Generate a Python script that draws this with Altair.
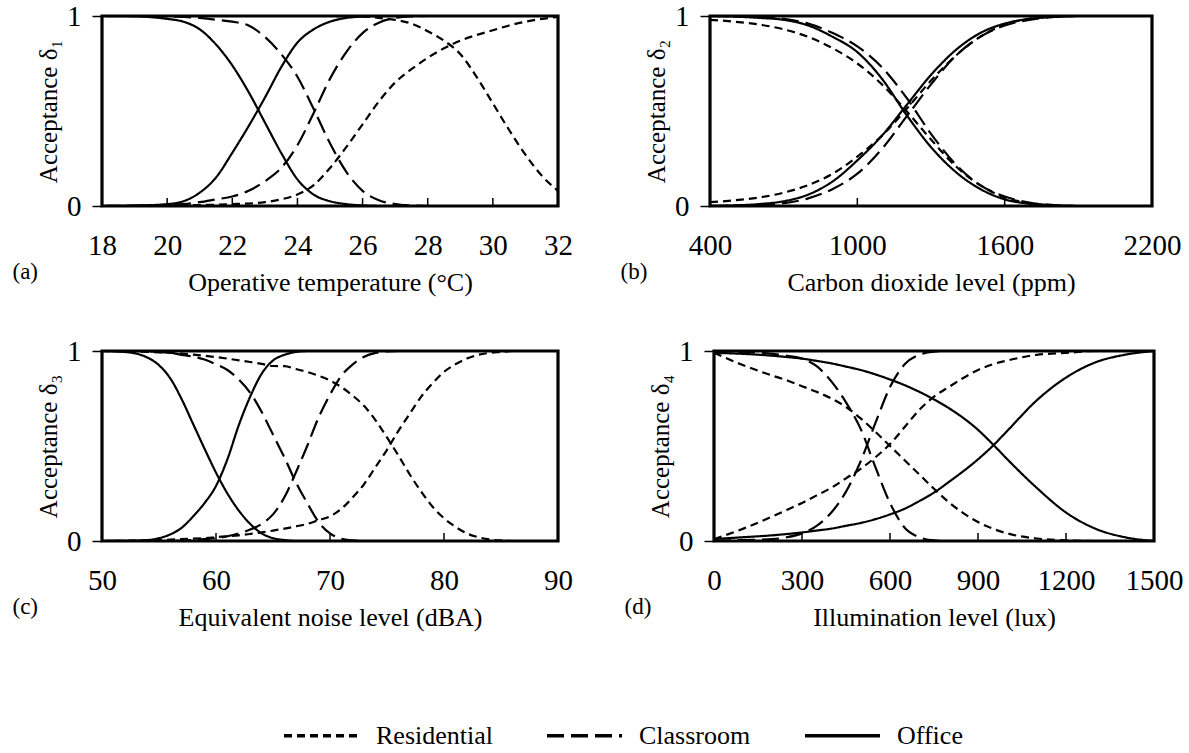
import altair as alt
import pandas as pd

FONT = "Liberation Serif"
WL, WR, H = 456, 442, 190

TYPES = ["Residential", "Classroom", "Office"]
DASHES = [[8, 5], [17, 7], [1, 0]]

# ---------- panel (a): operative temperature ----------
A_X = [18, 19, 20, 20.5, 21, 21.5, 22, 22.5, 23, 23.5, 24, 24.5, 25, 25.5, 26,
       26.5, 27, 27.5, 28, 28.5, 29, 29.5, 30, 30.5, 31, 31.5, 32]
A_RES_UP = [0, 0, 0.002, 0.003, 0.005, 0.007, 0.01, 0.013, 0.02, 0.035, 0.06, 0.11, 0.2, 0.31,
            0.43, 0.55, 0.65, 0.72, 0.78, 0.83, 0.87, 0.9, 0.925, 0.95, 0.97, 0.985, 0.995]
A_RES_DOWN = [1, 1, 1, 1, 1, 1, 1, 1, 1, 1, 1, 1, 1, 0.999, 0.998,
              0.99, 0.98, 0.96, 0.92, 0.87, 0.80, 0.68, 0.54, 0.40, 0.27, 0.16, 0.08]
A_CLS_UP = [0, 0.002, 0.005, 0.01, 0.02, 0.035, 0.05, 0.08, 0.13, 0.2, 0.32, 0.49, 0.67, 0.81,
            0.91, 0.965, 0.99, 0.998, 1, 1, 1, 1, 1, 1, 1, 1, 1]
A_CLS_DOWN = [1, 1, 0.998, 0.995, 0.99, 0.98, 0.97, 0.95, 0.89, 0.80, 0.68, 0.51, 0.33, 0.18,
              0.08, 0.03, 0.01, 0.003, 0, 0, 0, 0, 0, 0, 0, 0, 0]
A_OFF_UP = [0, 0.002, 0.01, 0.025, 0.07, 0.15, 0.28, 0.42, 0.57, 0.73, 0.86, 0.93, 0.97, 0.99,
            0.997, 1, 1, 1, 1, 1, 1, 1, 1, 1, 1, 1, 1]
A_OFF_DOWN = [1, 0.998, 0.985, 0.97, 0.93, 0.85, 0.74, 0.60, 0.44, 0.28, 0.14, 0.06, 0.025, 0.01,
              0.003, 0, 0, 0, 0, 0, 0, 0, 0, 0, 0, 0, 0]

# ---------- panel (b): carbon dioxide ----------
B_X = [400, 500, 600, 700, 800, 900, 1000, 1100, 1200, 1300, 1400, 1500, 1600, 1700,
       1800, 1900, 2000, 2100, 2200]
B_RES_DOWN = [0.98, 0.97, 0.955, 0.93, 0.89, 0.83, 0.75, 0.64, 0.5, 0.35, 0.21, 0.11, 0.045,
              0.015, 0.004, 0, 0, 0, 0]
B_RES_UP = [0.02, 0.03, 0.045, 0.07, 0.11, 0.17, 0.26, 0.37, 0.51, 0.66, 0.79, 0.89, 0.955,
            0.985, 0.997, 1, 1, 1, 1]
B_CLS_DOWN = [1.0, 0.998, 0.995, 0.985, 0.96, 0.91, 0.84, 0.73, 0.57, 0.38, 0.22, 0.11, 0.05,
              0.018, 0.005, 0, 0, 0, 0]
B_CLS_UP = [0, 0.002, 0.005, 0.015, 0.04, 0.09, 0.17, 0.30, 0.47, 0.64, 0.79, 0.89, 0.95,
            0.98, 0.995, 1, 1, 1, 1]
B_OFF_DOWN = [1.0, 0.997, 0.99, 0.98, 0.95, 0.89, 0.81, 0.67, 0.48, 0.31, 0.18, 0.09, 0.035,
              0.012, 0.003, 0, 0, 0, 0]
B_OFF_UP = [0, 0.003, 0.01, 0.025, 0.06, 0.13, 0.24, 0.37, 0.53, 0.69, 0.82, 0.91, 0.96,
            0.985, 0.995, 1, 1, 1, 1]

# ---------- panel (c): noise ----------
C_X = [50, 52, 54, 55, 56, 57, 58, 59, 60, 61, 62, 63, 64, 65, 66, 67, 68, 69, 70, 71, 72,
       73, 74, 75, 76, 77, 78, 79, 80, 81, 82, 83, 84, 85, 86, 88, 90]
C_OFF_DOWN = [1, 0.995, 0.965, 0.925, 0.855, 0.745, 0.615, 0.485, 0.36, 0.25, 0.16, 0.09, 0.04,
              0.015, 0.005, 0, 0, 0, 0, 0, 0, 0, 0, 0, 0, 0, 0, 0, 0, 0, 0, 0, 0, 0, 0, 0, 0]
C_OFF_UP = [0, 0.001, 0.005, 0.015, 0.035, 0.07, 0.13, 0.2, 0.29, 0.43, 0.61, 0.76, 0.88,
            0.95, 0.98, 0.995, 1, 1, 1, 1, 1, 1, 1, 1, 1, 1, 1, 1, 1, 1, 1, 1, 1, 1, 1, 1, 1]
C_CLS_DOWN = [1, 1, 0.998, 0.995, 0.99, 0.98, 0.97, 0.955, 0.93, 0.9, 0.85, 0.78, 0.68, 0.56,
              0.44, 0.31, 0.2, 0.1, 0.04, 0.012, 0.003, 0, 0, 0, 0, 0, 0, 0, 0, 0, 0, 0, 0, 0,
              0, 0, 0]
C_CLS_UP = [0, 0, 0, 0, 0, 0.002, 0.005, 0.01, 0.015, 0.025, 0.04, 0.06, 0.09, 0.14, 0.23,
            0.36, 0.5, 0.65, 0.77, 0.87, 0.93, 0.97, 0.99, 0.998, 1, 1, 1, 1, 1, 1, 1, 1, 1, 1,
            1, 1, 1]
C_RES_DOWN = [1, 0.998, 0.995, 0.993, 0.99, 0.986, 0.981, 0.975, 0.968, 0.96, 0.951, 0.942,
              0.932, 0.921, 0.92, 0.905, 0.89, 0.87, 0.845, 0.81, 0.765, 0.71, 0.635, 0.545,
              0.45, 0.35, 0.26, 0.18, 0.12, 0.075, 0.04, 0.02, 0.008, 0.003, 0, 0, 0]
C_RES_UP = [0, 0.001, 0.003, 0.005, 0.007, 0.01, 0.012, 0.015, 0.02, 0.025, 0.03, 0.037,
            0.045, 0.055, 0.065, 0.077, 0.09, 0.11, 0.13, 0.17, 0.23, 0.3, 0.39, 0.48, 0.58,
            0.67, 0.76, 0.83, 0.89, 0.93, 0.96, 0.98, 0.99, 0.995, 1, 1, 1]

# ---------- panel (d): illumination ----------
D_X = [0, 100, 200, 250, 300, 350, 400, 450, 500, 550, 600, 650, 700, 750, 800, 900, 950,
       1000, 1100, 1200, 1300, 1400, 1500]
D_OFF_DOWN = [0.99, 0.985, 0.975, 0.968, 0.96, 0.948, 0.935, 0.918, 0.9, 0.877, 0.85, 0.82,
              0.785, 0.745, 0.70, 0.585, 0.51, 0.43, 0.28, 0.15, 0.065, 0.02, 0.0]
D_OFF_UP = [0.01, 0.02, 0.03, 0.037, 0.045, 0.055, 0.065, 0.08, 0.095, 0.115, 0.14, 0.17,
            0.21, 0.255, 0.31, 0.43, 0.5, 0.58, 0.74, 0.86, 0.94, 0.98, 1.0]
D_CLS_DOWN = [1.0, 0.995, 0.985, 0.975, 0.96, 0.92, 0.84, 0.73, 0.59, 0.39, 0.2, 0.07, 0.02,
              0.003, 0, 0, 0, 0, 0, 0, 0, 0, 0]
D_CLS_UP = [0, 0.005, 0.01, 0.02, 0.04, 0.08, 0.15, 0.26, 0.42, 0.62, 0.81, 0.93, 0.98, 0.997,
            1, 1, 1, 1, 1, 1, 1, 1, 1]
D_RES_DOWN = [0.99, 0.925, 0.87, 0.845, 0.815, 0.785, 0.75, 0.705, 0.645, 0.575, 0.5, 0.425,
              0.35, 0.275, 0.205, 0.1, 0.065, 0.04, 0.013, 0.004, 0, 0, 0]
D_RES_UP = [0.01, 0.065, 0.13, 0.165, 0.2, 0.24, 0.28, 0.33, 0.38, 0.44, 0.51, 0.6, 0.69,
            0.76, 0.81, 0.9, 0.93, 0.95, 0.98, 0.99, 1.0, 1.0, 1.0]

# tick values
A_TICKS = [18, 20, 22, 24, 26, 28, 30, 32]
B_TICKS = [400, 1000, 1600, 2200]
C_TICKS = [50, 60, 70, 80, 90]
D_TICKS = [0, 300, 600, 900, 1200, 1500]


def panel(xs, curves, domain, ticks, xtitle, ytitle, tag, width):
    rows = []
    for name, typ, ys in curves:
        for x, y in zip(xs, ys):
            rows.append({"x": x, "y": y, "type": typ, "curve": name})
    df = pd.DataFrame(rows)
    xscale = alt.Scale(domain=domain, nice=False, zero=False)
    xaxis = alt.Axis(values=ticks, title=xtitle, ticks=False, tickSize=0,
                     labelPadding=25, labelFontSize=29, titleFontSize=26,
                     titlePadding=9, format="d", labelFlush=False)
    lines = alt.Chart(df).mark_line(
        color="black", strokeWidth=2.2, interpolate="monotone", clip=True
    ).encode(
        x=alt.X("x:Q", scale=xscale, axis=xaxis),
        y=alt.Y("y:Q", scale=alt.Scale(domain=[0, 1], nice=False),
                axis=alt.Axis(values=[0, 1], title=ytitle, tickSize=10, tickWidth=1.5,
                              labelPadding=11, labelFontSize=29, titleFontSize=25,
                              titlePadding=5, format="d")),
        strokeDash=alt.StrokeDash(
            "type:N",
            scale=alt.Scale(domain=TYPES, range=DASHES),
            legend=alt.Legend(title=None, orient="none", direction="horizontal",
                              legendX=180, legendY=680, symbolType="stroke",
                              symbolSize=5625, symbolStrokeWidth=3.5,
                              symbolStrokeColor="black", labelFontSize=26,
                              labelFont=FONT, labelColor="black", labelOffset=15,
                              columnPadding=47)),
        detail="curve:N",
    )
    inner = [t for t in ticks[1:-1]]
    tdf = pd.DataFrame({"x": inner})
    tk = alt.Chart(tdf).mark_rule(color="black", strokeWidth=1.5).encode(
        x=alt.X("x:Q", scale=xscale, axis=xaxis),
        y=alt.value(H), y2=alt.value(H - 8),
    )
    return alt.layer(lines, tk).properties(
        width=width, height=H,
        title=alt.TitleParams(tag, orient="bottom", anchor="start", frame="bounds",
                              dx=-24, dy=-34, offset=0, fontSize=23, font=FONT,
                              fontWeight="normal", color="black"),
    )


pa = panel(A_X, [("r1", "Residential", A_RES_UP), ("r2", "Residential", A_RES_DOWN),
                 ("c1", "Classroom", A_CLS_UP), ("c2", "Classroom", A_CLS_DOWN),
                 ("o1", "Office", A_OFF_UP), ("o2", "Office", A_OFF_DOWN)],
           [18, 32], A_TICKS, "Operative temperature (°C)", "Acceptance δ₁", "(a)", WL)
pb = panel(B_X, [("r1", "Residential", B_RES_UP), ("r2", "Residential", B_RES_DOWN),
                 ("c1", "Classroom", B_CLS_UP), ("c2", "Classroom", B_CLS_DOWN),
                 ("o1", "Office", B_OFF_UP), ("o2", "Office", B_OFF_DOWN)],
           [400, 2200], B_TICKS, "Carbon dioxide level (ppm)", "Acceptance δ₂", "(b)", WR)
pc = panel(C_X, [("r1", "Residential", C_RES_UP), ("r2", "Residential", C_RES_DOWN),
                 ("c1", "Classroom", C_CLS_UP), ("c2", "Classroom", C_CLS_DOWN),
                 ("o1", "Office", C_OFF_UP), ("o2", "Office", C_OFF_DOWN)],
           [50, 90], C_TICKS, "Equivalent noise level (dBA)", "Acceptance δ₃", "(c)", WL)
pd_ = panel(D_X, [("r1", "Residential", D_RES_UP), ("r2", "Residential", D_RES_DOWN),
                  ("c1", "Classroom", D_CLS_UP), ("c2", "Classroom", D_CLS_DOWN),
                  ("o1", "Office", D_OFF_UP), ("o2", "Office", D_OFF_DOWN)],
            [0, 1500], D_TICKS, "Illumination level (lux)", "Acceptance δ₄", "(d)", WR - 2)

top = alt.hconcat(pa, pb, spacing=43)
bottom = alt.hconcat(pc, pd_, spacing=47)
chart = alt.vconcat(top, bottom, spacing=38).properties(
    padding={"left": 10, "top": 0, "right": 0, "bottom": 0},
    background="white",
).configure_view(
    stroke="black", strokeWidth=3.2
).configure_axis(
    labelFont=FONT, titleFont=FONT, labelColor="black", titleColor="black",
    titleFontWeight="normal", domain=False, grid=False, tickColor="black"
)

chart.save("out.html", embed_options={"renderer": "svg", "actions": False})
